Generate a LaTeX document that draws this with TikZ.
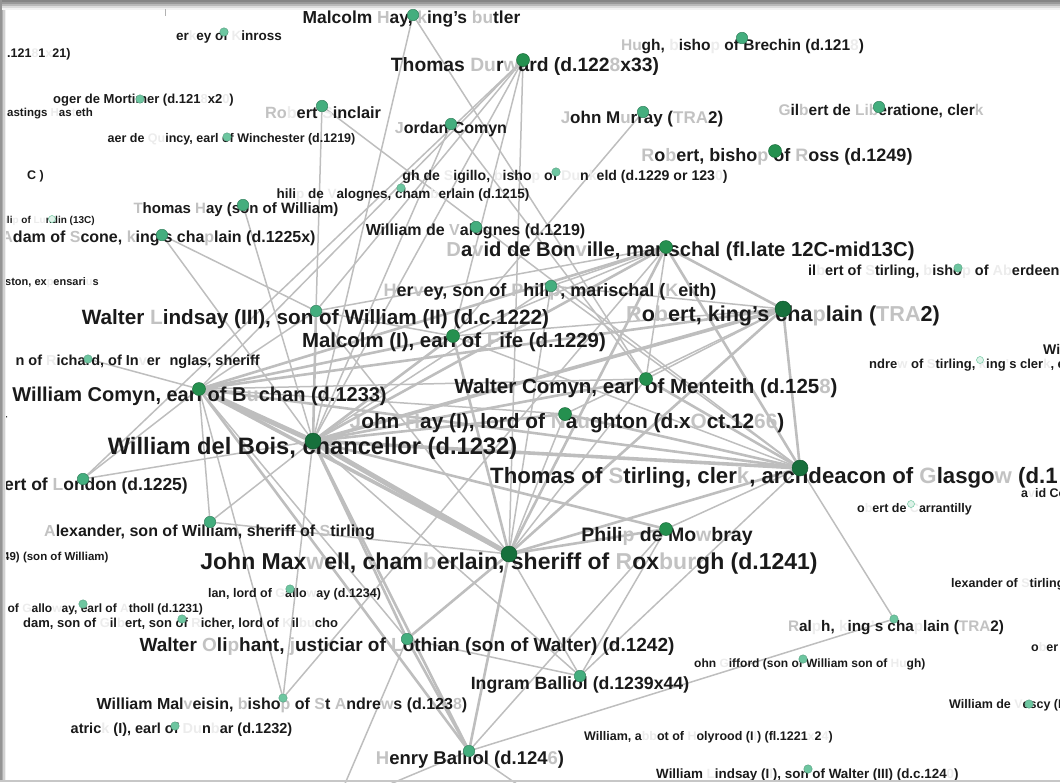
\documentclass[tikz,border=0pt]{standalone}
\usepackage{fontspec}
\setmainfont{Liberation Sans}
\usetikzlibrary{calc}
\definecolor{txt}{HTML}{1A1A1A}
\definecolor{fad}{HTML}{C2C2C2}
\definecolor{fax}{HTML}{ECECEC}
\definecolor{edg}{HTML}{BEBEBE}
\definecolor{gA}{HTML}{17703C}
\definecolor{gB}{HTML}{25904F}
\definecolor{gC}{HTML}{44AE7E}
\definecolor{gD}{HTML}{6DC6A0}
\definecolor{gE}{HTML}{DDF2E8}
\newcommand\gl[1]{\textcolor{fad}{#1}}
\newcommand\gx[1]{\textcolor{fax}{#1}}
\pgfdeclarelayer{bg}\pgfdeclarelayer{fg}\pgfsetlayers{bg,main,fg}
\tikzset{
  lab/.style={font=\fontsize{#1}{#1}\selectfont\bfseries, text=txt, inner sep=0pt},
  dotA/.style={circle, fill=gA, draw=gA!75!black, line width=0.5pt, minimum size=16pt, inner sep=0pt},
  dotB/.style={circle, fill=gB, draw=gB!75!black, line width=0.5pt, minimum size=13pt, inner sep=0pt},
  dotC/.style={circle, fill=gC, draw=gC!75!black, line width=0.5pt, minimum size=11.5pt, inner sep=0pt},
  dotD/.style={circle, fill=gD, draw=gD!80!black, line width=0.4pt, minimum size=8.5pt, inner sep=0pt},
  dotE/.style={circle, fill=gE, draw=gD, line width=0.5pt, minimum size=7pt, inner sep=0pt},
  e1/.style={draw=edg, line width=1.5pt},
  e2/.style={draw=edg, line width=2.6pt},
  e3/.style={draw=edg, line width=3.6pt},
  e4/.style={draw=edg, line width=5pt}
}
\begin{document}
\begin{tikzpicture}[x=1pt,y=-1pt]
\useasboundingbox (0,0) rectangle (1060,782);
\begin{scope}
\clip (4,6) rectangle (1060,780);
% ---------------- dots (foreground) ----------------
\begin{pgfonlayer}{fg}
\node[dotC] (MH) at (413,15) {};
\node[dotD] (Berk) at (224,32) {};
\node[dotC] (HBr) at (742,38) {};
\node[dotB] (TD) at (523,60) {};
\node[dotD] (Rog) at (140,99) {};
\node[dotC] (RS) at (322,106) {};
\node[dotC] (JC) at (451,124) {};
\node[dotC] (JMu) at (643,112) {};
\node[dotC] (GLib) at (879,107) {};
\node[dotD] (Saer) at (227,137) {};
\node[dotB] (RRo) at (775,151) {};
\node[dotD] (HSig) at (556,172) {};
\node[dotD] (PhV) at (401,188) {};
\node[dotC] (ThH) at (243,205) {};
\node[dotE] (PhL) at (52,219) {};
\node[dotC] (WV) at (476,227) {};
\node[dotC] (AS) at (162,235) {};
\node[dotB] (DB) at (666,247) {};
\node[dotD] (GSt) at (958,268) {};
\node[dotC] (Hv) at (551,286) {};
\node[dotC] (WL) at (316,311) {};
\node[dotA] (RKC) at (783,309) {};
\node[dotB] (MF) at (453,336) {};
\node[dotD] (Ri) at (88,359) {};
\node[dotE] (And) at (980,360) {};
\node[dotB] (WC) at (199,389) {};
\node[dotB] (WMC) at (646,379) {};
\node[dotB] (JH) at (565,414) {};
\node[dotA] (WdB) at (313,441) {};
\node[dotC] (RL) at (83,479) {};
\node[dotA] (TS) at (800,468) {};
\node[dotE] (Car) at (911,504) {};
\node[dotC] (AW) at (210,522) {};
\node[dotB] (PM) at (666,529) {};
\node[dotA] (JM) at (509,554) {};
\node[dotD] (Alan) at (290,589) {};
\node[dotD] (Gall) at (83,604) {};
\node[dotD] (Ral) at (894,619) {};
\node[dotD] (AG) at (182,619) {};
\node[dotC] (WO) at (407,639) {};
\node[dotD] (Gif) at (803,659) {};
\node[dotC] (IB) at (580,676) {};
\node[dotD] (WM) at (283,698) {};
\node[dotD] (Ves) at (1029,704) {};
\node[dotD] (Pat) at (175,726) {};
\node[dotC] (HB) at (469,751) {};
\node[dotD] (WLi) at (808,769) {};
\end{pgfonlayer}
\coordinate (oA) at (352,800);
\coordinate (oB) at (540,800);
\coordinate (oC) at (338,800);
% ---------------- edges (background) ----------------
\begin{pgfonlayer}{bg}
\draw[e4] (WdB) -- (WC);
\draw[e4] (WdB) -- (JM);
\draw[e3] (WC) -- (JM);
\draw[e3] (WdB) -- (TS);
\draw[e3] (WdB) -- (RKC);
\draw[e2] (WdB) -- (DB);
\draw[e2] (WdB) -- (MF);
\draw[e2] (WdB) -- (WL);
\draw[e2] (WdB) -- (WMC);
\draw[e2] (WdB) -- (JH);
\draw[e1] (WdB) -- (TD);
\draw[e1] (WdB) -- (RL);
\draw[e1] (WdB) -- (AS);
\draw[e1] (WdB) -- (AW);
\draw[e2] (WdB) -- (WO);
\draw[e2] (WdB) -- (HB);
\draw[e1] (WdB) -- (IB);
\draw[e2] (WdB) -- (PM);
\draw[e1] (WdB) -- (WM);
\draw[e1] (WdB) -- (MH);
\draw[e1] (WdB) -- (Hv);
\draw[e1] (WdB) -- (JC);
\draw[e1] (WdB) -- (ThH);
\draw[e2] (JM) -- (TS);
\draw[e2] (JM) -- (PM);
\draw[e2] (JM) -- (WO);
\draw[e1] (JM) -- (IB);
\draw[e2] (JM) -- (HB);
\draw[e2] (JM) -- (MF);
\draw[e1] (JM) -- (WL);
\draw[e2] (JM) -- (DB);
\draw[e2] (JM) -- (RKC);
\draw[e1] (JM) -- (JH);
\draw[e1] (JM) -- (AW);
\draw[e1] (JM) -- (TD);
\draw[e1] (JM) -- (WMC);
\draw[e1] (JM) -- (Hv);
\draw[e1] (WC) -- (RL);
\draw[e2] (WC) -- (MF);
\draw[e1] (WC) -- (WL);
\draw[e2] (WC) -- (DB);
\draw[e2] (WC) -- (RKC);
\draw[e2] (WC) -- (TS);
\draw[e1] (WC) -- (WMC);
\draw[e1] (WC) -- (JH);
\draw[e2] (WC) -- (HB);
\draw[e1] (WC) -- (WO);
\draw[e1] (WC) -- (AW);
\draw[e1] (WC) -- (WM);
\draw[e1] (WC) -- (Ri);
\draw[e1] (WC) -- (TD);
\draw[e2] (TS) -- (RKC);
\draw[e2] (TS) -- (DB);
\draw[e2] (TS) -- (WMC);
\draw[e2] (TS) -- (JH);
\draw[e1] (TS) -- (MF);
\draw[e1] (TS) -- (Hv);
\draw[e1] (TS) -- (PM);
\draw[e1] (TS) -- (Ral);
\draw[e1] (TS) -- (IB);
\draw[e2] (RKC) -- (DB);
\draw[e1] (RKC) -- (MF);
\draw[e1] (RKC) -- (JH);
\draw[e1] (RKC) -- (Hv);
\draw[e1] (RKC) -- (WMC);
\draw[e1] (DB) -- (MF);
\draw[e1] (DB) -- (WL);
\draw[e1] (DB) -- (Hv);
\draw[e1] (DB) -- (WMC);
\draw[e1] (MF) -- (WL);
\draw[e1] (MF) -- (JMu);
\draw[e1] (MF) -- (TD);
\draw[e1] (HB) -- (Ral);
\draw[e2] (HB) -- (WO);
\draw[e1] (HB) -- (PM);
\draw[e1] (HB) -- (oA);
\draw[e1] (HB) -- (oB);
\draw[e1] (WO) -- (oC);
\draw[e1] (WO) -- (IB);
\draw[e1] (IB) -- (PM);
\draw[e1] (WM) -- (DB);
\draw[e1] (JC) -- (WMC);
\draw[e1] (MH) -- (WMC);
\draw[e1] (RS) -- (WL);
\draw[e1] (RS) -- (TS);
\draw[e1] (AS) -- (WL);
\draw[e1] (TD) -- (WL);
\draw[e1] (TD) -- (RL);
\end{pgfonlayer}
% ---------------- labels ----------------
\node[lab=17.4, anchor=base] (lMH) at (411.5,23) {Malcolm \gl{H}ay, \gl{k}ing's \gl{bu}tler};
\node[lab=13.5, anchor=base] (lBerk) at (229,40) {er\gx{k}ey of \gx{K}inross};
\node[lab=12.5, anchor=base west] (lD121) at (7,57) {.121\gx{8}1\gx{x}21)};
\node[lab=15.5, anchor=base] (lHBr) at (742.5,50) {\gl{Hu}gh, \gx{b}isho\gx{p} of Brechin (d.121\gx{8})};
\node[lab=19.3, anchor=base] (lTD) at (525,71) {Thomas \gl{Du}r\gl{w}ard (d.122\gl{8}x33)};
\node[lab=13, anchor=base] (lRog) at (143.5,103) {oger de Mortimer (d.121\gx{8}x2\gx{0})};
\node[lab=11.5, anchor=base west] (lHast) at (7,116) {astings \gx{H}as\gx{t}eth};
\node[lab=16.3, anchor=base] (lRS) at (323,118) {\gl{Ro}\gx{b}ert \gx{S}inclair};
\node[lab=16, anchor=base] (lJC) at (451,133) {\gl{J}ordan Comyn};
\node[lab=17, anchor=base] (lJMu) at (642,123) {\gl{J}ohn M\gl{u}rray (\gl{TRA}2)};
\node[lab=15.5, anchor=base] (lGLib) at (881,115) {\gl{G}il\gl{b}ert de \gl{Li}\gl{b}eratione, cler\gl{k}};
\node[lab=12.5, anchor=base] (lSaer) at (231.5,142) {aer de \gx{Qu}incy, earl of Winchester (d.1219)};
\node[lab=12.5, anchor=base west] (lC) at (27,179) {C )};
\node[lab=18, anchor=base] (lRRo) at (777,161) {\gl{R}o\gl{b}ert, bisho\gl{p} of \gl{R}oss (d.1249)};
\node[lab=14.1, anchor=base] (lHSig) at (565,180) {gh de \gx{S}igillo, \gx{b}isho\gx{p} of \gx{Du}n\gx{k}eld (d.1229 or 123\gx{0})};
\node[lab=13.5, anchor=base] (lPhV) at (403,198) {hili\gx{p} de \gx{V}alognes, cham\gx{b}erlain (d.1215)};
\node[lab=15, anchor=base] (lThH) at (236,213) {\gl{T}homas \gl{H}ay (son of William)};
\node[lab=10, anchor=base west] (lPhL) at (4,223) {ili\gx{p} of \gx{Lu}ndin (13C)};
\node[lab=16, anchor=base] (lWV) at (475.5,235) {William de \gl{V}alognes (d.1219)};
\node[lab=16, anchor=base] (lAS) at (158.5,242) {\gl{A}dam of \gl{S}cone, \gl{k}ing's cha\gl{p}lain (d.1225x)};
\node[lab=20.2, anchor=base] (lDB) at (680.5,256) {\gl{D}a\gl{v}id de Bon\gl{v}ille, marischal (fl.late 12C-mid13C)};
\node[lab=14.5, anchor=base west] (lGSt) at (808,275) {il\gx{b}ert of \gx{S}tirling, \gx{b}isho\gx{p} of \gx{Ab}erdeen};
\node[lab=11, anchor=base west] (lSton) at (5,285) {ston, ex\gx{p}ensari\gx{u}s};
\node[lab=18, anchor=base] (lHv) at (550,296) {\gl{H}er\gl{v}ey, son of \gl{P}hili\gl{p}, marischal (\gl{K}eith)};
\node[lab=20.7, anchor=base] (lWL) at (315.5,324) {Walter \gl{L}indsay (III), son of William (II) (d.c.1222)};
\node[lab=21.6, anchor=base] (lRKC) at (783,321) {\gl{R}o\gl{b}ert, king's cha\gl{p}lain (\gl{TRA}2)};
\node[lab=20.4, anchor=base] (lMF) at (454,347) {Malcolm (I), earl of \gl{F}ife (d.1229)};
\node[lab=14.5, anchor=base east] (lRi) at (260,365) {n of \gx{R}ichard, of In\gx{v}er\hspace{9pt}nglas, sheriff};
\node[lab=14, anchor=base west] (lWi) at (1043,354) {Wi};
\node[lab=13, anchor=base west] (lAnd) at (869,368) {ndre\gx{w} of \gx{S}tirling, \gx{k}ing\gx{'}s cler\gx{k}, e};
\node[lab=20, anchor=base] (lWC) at (199.5,401) {William Comyn, earl of B\gl{u}chan (d.1233)};
\node[lab=20.5, anchor=base] (lWMC) at (646,393) {Walter Comyn, earl of Menteith (d.125\gl{8})};
\node[lab=11, anchor=base west] (lr) at (3,422) {r};
\node[lab=20.8, anchor=base] (lJH) at (567,428) {\gl{J}ohn \gl{H}ay (I), lord of \gl{N}a\gl{u}ghton (d.x\gl{O}ct.12\gl{66})};
\node[lab=23.7, anchor=base] (lWdB) at (312.5,454) {William del Bois, chancellor (d.1232)};
\node[lab=17.5, anchor=base east] (lRL) at (188,490) {Robert of \gl{L}ondon (d.1225)};
\node[lab=22.2, anchor=base west] (lTS) at (490,483) {Thomas of \gl{S}tirling, cler\gl{k}, archdeacon of \gl{G}lasgo\gl{w} (d.1};
\node[lab=12.5, anchor=base west] (lDCom) at (1021,497) {a\gx{v}id Com};
\node[lab=12.5, anchor=base] (lCar) at (914.5,512) {o\gx{b}ert de \gx{C}arrantilly};
\node[lab=16, anchor=base] (lAW) at (209.5,536) {\gl{A}lexander, son of William, sheriff of \gl{S}tirling};
\node[lab=19.5, anchor=base] (lPM) at (667,541) {Phili\gl{p} de Mo\gl{w}bray};
\node[lab=23, anchor=base] (lJM) at (509,569) {John Max\gl{w}ell, cham\gl{b}erlain, sheriff of \gl{R}ox\gl{bur}gh (d.1241)};
\node[lab=11.5, anchor=base west] (l49) at (3,560) {49) (son of William)};
\node[lab=12.5, anchor=base west] (lAlS) at (951,587) {lexander of \gx{S}tirling, s};
\node[lab=12.5, anchor=base] (lAlan) at (294.5,597) {lan, lord of \gx{G}allo\gx{w}ay (d.1234)};
\node[lab=12, anchor=base east] (lGall) at (203,612) {of \gx{G}allo\gx{w}ay, earl of \gx{A}tholl (d.1231)};
\node[lab=15.3, anchor=base] (lRal) at (896,631) {\gl{R}al\gx{p}h, \gx{k}ing\gx{'}s cha\gx{p}lain (\gl{TRA}2)};
\node[lab=13, anchor=base west] (lAG) at (23,627) {dam, son of \gx{G}il\gx{b}ert, son of \gx{R}icher, lord of \gx{K}il\gx{bu}cho};
\node[lab=12.5, anchor=base west] (lOber) at (1031,651) {o\gx{b}er};
\node[lab=19, anchor=base] (lWO) at (407,651) {Walter \gl{O}li\gl{p}hant, \gl{j}usticiar of \gl{L}othian (son of Walter) (d.1242)};
\node[lab=12, anchor=base west] (lGif) at (694,667) {ohn \gx{G}ifford (son of William son of \gx{Hu}gh)};
\node[lab=17.7, anchor=base] (lIB) at (580,689) {Ingram Balliol (d.1239x44)};
\node[lab=16, anchor=base] (lWM) at (282,709) {William Mal\gl{v}eisin, \gl{b}isho\gl{p} of \gl{S}t \gl{A}ndre\gl{w}s (d.123\gl{8})};
\node[lab=12.5, anchor=base west] (lVes) at (949,708) {William de \gx{V}escy (II)};
\node[lab=14.5, anchor=base] (lPat) at (181.5,733) {atric\gx{k} (I), earl of \gx{Du}n\gx{b}ar (d.1232)};
\node[lab=12.5, anchor=base west] (lHol) at (584,740) {William, a\gx{bb}ot of \gx{H}olyrood (I\gx{I}) (fl.1221\gx{x}2\gx{4})};
\node[lab=18.5, anchor=base] (lHB) at (470,764) {\gl{H}enry Balliol (d.124\gl{6})};
\node[lab=13.4, anchor=base west] (lWLi) at (656,778) {William \gx{L}indsay (I\gx{I}), son of Walter (III) (d.c.124\gx{0})};
\end{scope}
% ---------------- screenshot frame ----------------
\fill[black!48] (0,0) rectangle (1060,2);
\fill[black!40] (0,2) rectangle (1060,4);
\fill[black!28] (0,4) rectangle (1060,6);
\fill[black!14] (0,6) rectangle (1060,8);
\fill[black!5] (0,8) rectangle (1060,9.5);
\fill[black!42] (0,0) rectangle (1.5,782);
\fill[black!32] (1.5,9.5) rectangle (3,782);
\fill[black!18] (3,9.5) rectangle (4.5,782);
\fill[black!6] (4.5,9.5) rectangle (6,782);
\fill[black!22] (0,779.5) rectangle (1060,782);
\draw[black!30, line width=0.8pt] (165,9) -- (165,16);
\end{tikzpicture}
\end{document}
